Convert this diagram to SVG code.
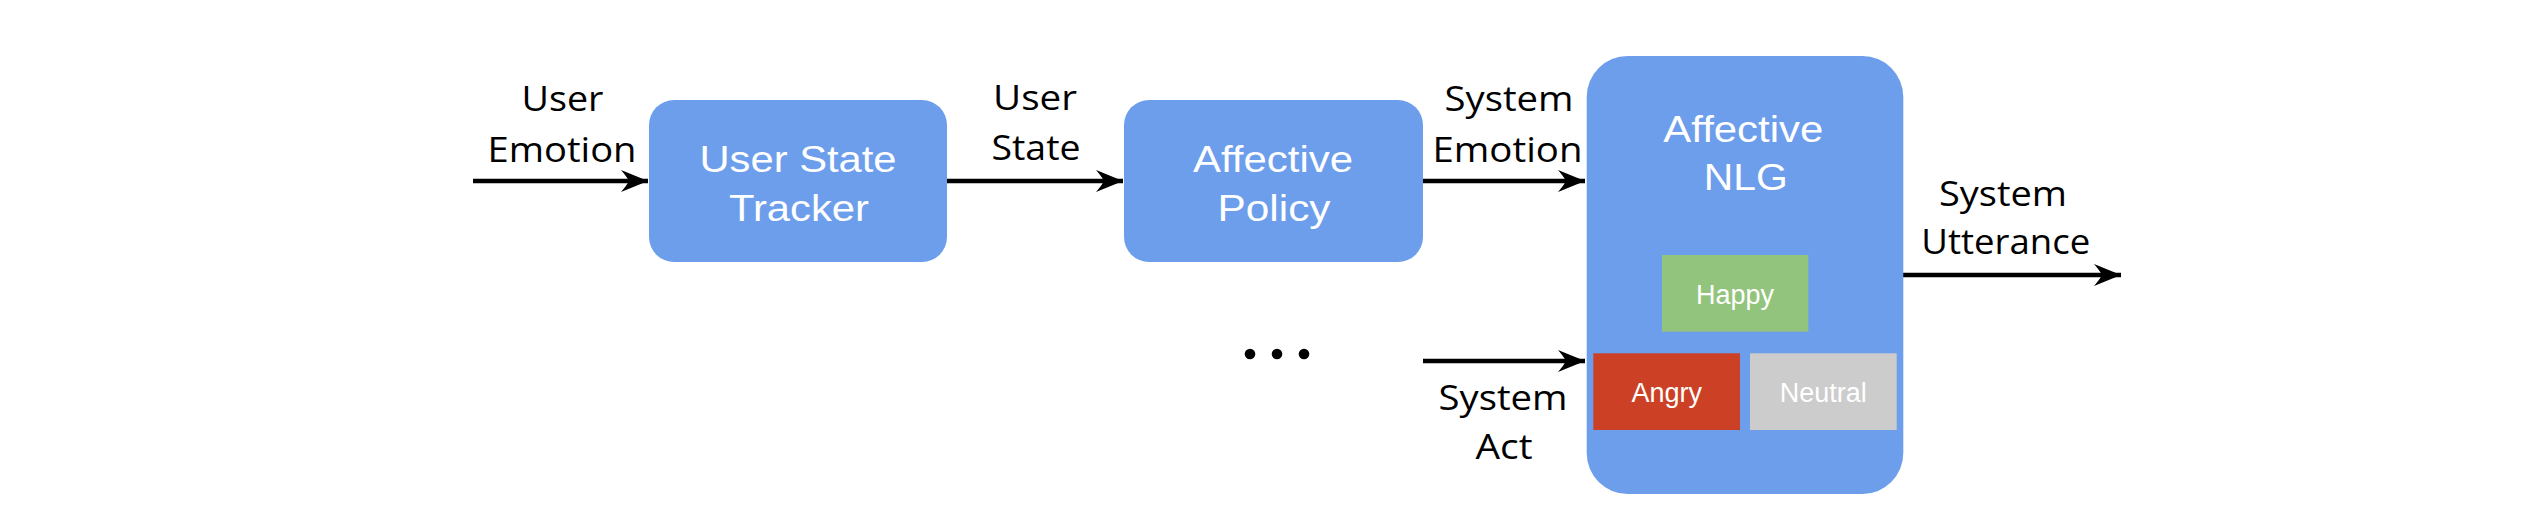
<svg xmlns="http://www.w3.org/2000/svg" width="2524" height="526" viewBox="0 0 2524 526">
<style>
.box{fill:#6d9eeb}
.wt{fill:#ffffff;font-family:"Liberation Sans",Arial,sans-serif;font-size:37px;text-anchor:middle}
.st{fill:#ffffff;font-family:"Liberation Sans",Arial,sans-serif;font-size:27px;text-anchor:middle}
.lb{fill:#000000;font-family:"Open Sans","Noto Sans",sans-serif;font-size:34px;text-anchor:middle}
.ar{stroke:#000;stroke-width:4.5;fill:none;marker-end:url(#ah)}
</style>
<defs>
<marker id="ah" markerUnits="userSpaceOnUse" viewBox="-30 -13 32 26" markerWidth="32" markerHeight="26" refX="0" refY="0" orient="auto">
<path d="M0,0 L-27,-11 Q-21,-4 -19,0 Q-21,4 -27,11 Z" fill="#000"/>
</marker>
</defs>
<rect width="2524" height="526" fill="#fff"/>
<g id="connectors">
<line class="ar" x1="473" y1="181" x2="648" y2="181"/>
<line class="ar" x1="947" y1="181" x2="1123" y2="181"/>
<line class="ar" x1="1423" y1="181" x2="1585" y2="181"/>
<line class="ar" x1="1423" y1="361" x2="1585" y2="361"/>
<line class="ar" x1="1903" y1="275" x2="2121" y2="275"/>
</g>
<g id="labels">
<text class="lb" x="562.5" y="111" textLength="82" lengthAdjust="spacingAndGlyphs">User</text>
<text class="lb" x="562" y="161.7" textLength="149" lengthAdjust="spacingAndGlyphs">Emotion</text>
<text class="lb" x="1035" y="110" textLength="84" lengthAdjust="spacingAndGlyphs">User</text>
<text class="lb" x="1036" y="160" textLength="89" lengthAdjust="spacingAndGlyphs">State</text>
<text class="lb" x="1509" y="111" textLength="129" lengthAdjust="spacingAndGlyphs">System</text>
<text class="lb" x="1507.5" y="161.7" textLength="150" lengthAdjust="spacingAndGlyphs">Emotion</text>
<text class="lb" x="1503" y="410" textLength="129" lengthAdjust="spacingAndGlyphs">System</text>
<text class="lb" x="1504" y="459.3" textLength="57" lengthAdjust="spacingAndGlyphs">Act</text>
<text class="lb" x="2003" y="205.7" textLength="128" lengthAdjust="spacingAndGlyphs">System</text>
<text class="lb" x="2005.8" y="254" textLength="169" lengthAdjust="spacingAndGlyphs">Utterance</text>
</g>
<g id="ellipsis">
<circle cx="1250" cy="354" r="5.3"/>
<circle cx="1277" cy="354" r="5.3"/>
<circle cx="1304" cy="354" r="5.3"/>
</g>
<g id="user-state-tracker">
<rect class="box" x="649" y="100" width="298" height="162" rx="25"/>
<text class="wt" x="798" y="171.7" textLength="197" lengthAdjust="spacingAndGlyphs">User State</text>
<text class="wt" x="799" y="220.7" textLength="140" lengthAdjust="spacingAndGlyphs">Tracker</text>
</g>
<g id="affective-policy">
<rect class="box" x="1124" y="100" width="299" height="162" rx="25"/>
<text class="wt" x="1273" y="171.7" textLength="160" lengthAdjust="spacingAndGlyphs">Affective</text>
<text class="wt" x="1274" y="220.7" textLength="113" lengthAdjust="spacingAndGlyphs">Policy</text>
</g>
<g id="affective-nlg">
<rect class="box" x="1586.7" y="56" width="316.6" height="438" rx="41"/>
<text class="wt" x="1743.3" y="141.7" textLength="160" lengthAdjust="spacingAndGlyphs">Affective</text>
<text class="wt" x="1745.8" y="190" textLength="84" lengthAdjust="spacingAndGlyphs">NLG</text>
<g id="happy">
<rect x="1662" y="255" width="146.3" height="76.7" fill="#93c47d"/>
<text class="st" x="1735" y="304.3">Happy</text>
</g>
<g id="angry">
<rect x="1593.3" y="353.3" width="146.7" height="76.7" fill="#cc4125"/>
<text class="st" x="1666.7" y="401.7">Angry</text>
</g>
<g id="neutral">
<rect x="1750" y="353.3" width="146.7" height="76.7" fill="#cccccc"/>
<text class="st" x="1823.3" y="401.7">Neutral</text>
</g>
</g>
</svg>
